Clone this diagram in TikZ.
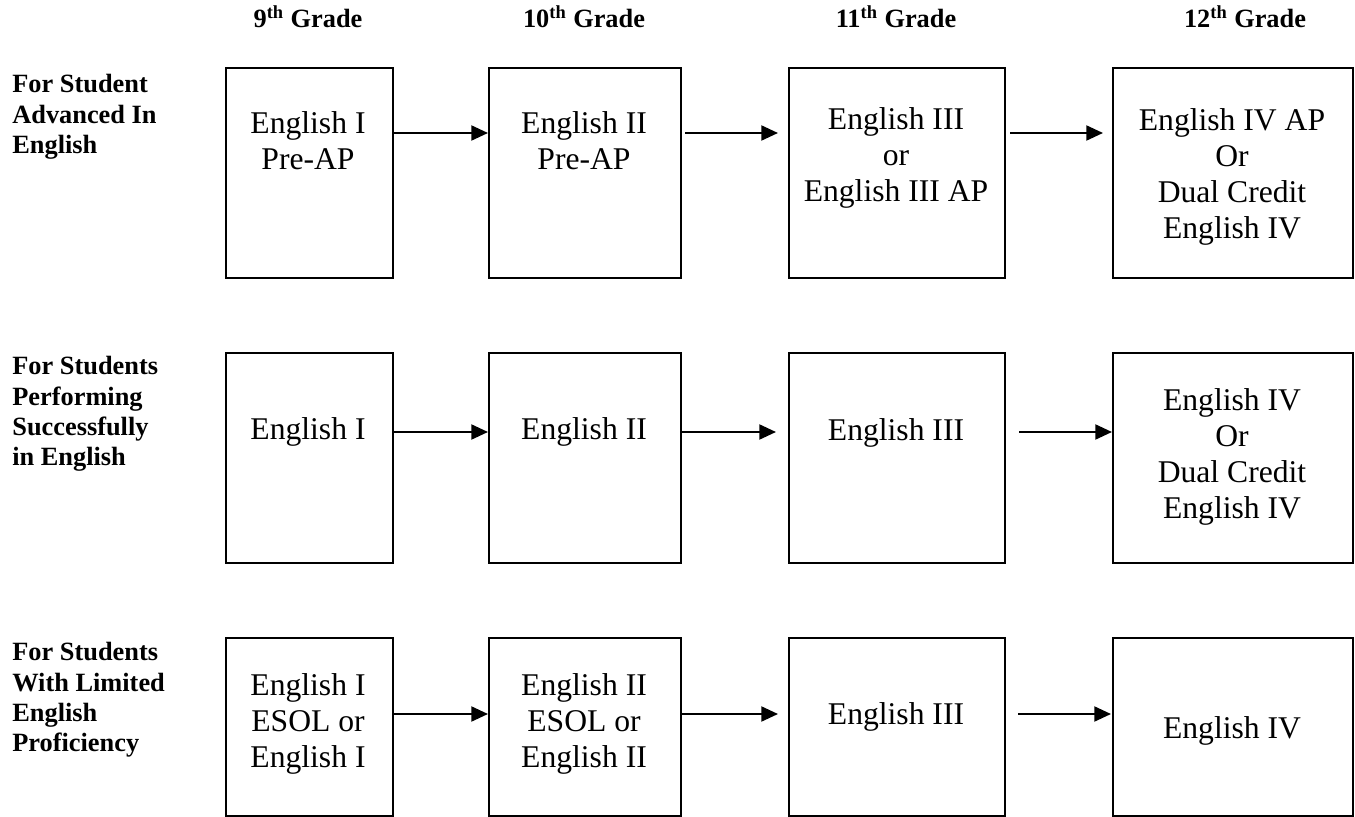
\documentclass[tikz,border=0pt]{standalone}
\usepackage{fontspec}
\setmainfont{Liberation Serif}
\usetikzlibrary{arrows.meta}

\begin{document}
\begin{tikzpicture}[x=0.02cm, y=-0.02cm,
        box/.style = {draw, line width=1.3pt, anchor=north west, inner sep=0pt},
        course/.style = {align=center, font=\fontsize{18}{20.5}\selectfont},
        track/.style = {align=left, anchor=west, inner sep=0pt, font=\bfseries\fontsize{15}{17.3}\selectfont},
        grade/.style = {anchor=base, font=\bfseries\fontsize{15}{18}\selectfont},
        arrow/.style = {line width=1.3pt, -{Triangle[length=9.5pt,width=8.5pt]}}]
    \useasboundingbox (0,0) rectangle (1355,817);

    % grade headings
    \node[grade] (g9)  at (308,28)  {9\textsuperscript{th} Grade};
    \node[grade] (g10) at (584,28)  {10\textsuperscript{th} Grade};
    \node[grade] (g11) at (896,28)  {11\textsuperscript{th} Grade};
    \node[grade] (g12) at (1245,28) {12\textsuperscript{th} Grade};

    % student groups
    \node[track] (adv) at (12,117) {For Student\\Advanced In\\English};
    \node[track] (reg) at (12,414) {For Students\\Performing\\Successfully\\in English};
    \node[track] (lep) at (12,700) {For Students\\With Limited\\English\\Proficiency};

    % advanced track
    \node[box, minimum width=3.34cm, minimum height=4.2cm] (adv9)  at (225,67)  {};
    \node[box, minimum width=3.84cm, minimum height=4.2cm] (adv10) at (488,67)  {};
    \node[box, minimum width=4.32cm, minimum height=4.2cm] (adv11) at (788,67)  {};
    \node[box, minimum width=4.8cm,  minimum height=4.2cm] (adv12) at (1112,67) {};
    \node[course] (adv9t)  at (308,141)  {English I\\Pre-AP};
    \node[course] (adv10t) at (584,141)  {English II\\Pre-AP};
    \node[course] (adv11t) at (896,158)  {English III\\or\\English III AP};
    \node[course] (adv12t) at (1232,177) {English IV AP\\Or\\Dual Credit\\English IV};

    % regular track
    \node[box, minimum width=3.34cm, minimum height=4.2cm] (reg9)  at (225,352)  {};
    \node[box, minimum width=3.84cm, minimum height=4.2cm] (reg10) at (488,352)  {};
    \node[box, minimum width=4.32cm, minimum height=4.2cm] (reg11) at (788,352)  {};
    \node[box, minimum width=4.8cm,  minimum height=4.2cm] (reg12) at (1112,352) {};
    \node[course] (reg9t)  at (308,432)  {English I};
    \node[course] (reg10t) at (584,432)  {English II};
    \node[course] (reg11t) at (896,433)  {English III};
    \node[course] (reg12t) at (1232,457) {English IV\\Or\\Dual Credit\\English IV};

    % ESOL track
    \node[box, minimum width=3.34cm, minimum height=3.56cm] (lep9)  at (225,637)  {};
    \node[box, minimum width=3.84cm, minimum height=3.56cm] (lep10) at (488,637)  {};
    \node[box, minimum width=4.32cm, minimum height=3.56cm] (lep11) at (788,637)  {};
    \node[box, minimum width=4.8cm,  minimum height=3.56cm] (lep12) at (1112,637) {};
    \node[course] (lep9t)  at (308,724)  {English I\\ESOL or\\English I};
    \node[course] (lep10t) at (584,724)  {English II\\ESOL or\\English II};
    \node[course] (lep11t) at (896,717)  {English III};
    \node[course] (lep12t) at (1232,731) {English IV};

    % arrow heights
    \coordinate (r1) at (0,133);
    \coordinate (r2) at (0,432);
    \coordinate (r3) at (0,714);

    \draw[arrow] (adv9.east |- r1) -- (adv10.west |- r1);
    \draw[arrow, shorten <=0.06cm, shorten >=0.2cm] (adv10.east |- r1) -- (adv11.west |- r1);
    \draw[arrow, shorten <=0.08cm, shorten >=0.18cm] (adv11.east |- r1) -- (adv12.west |- r1);

    \draw[arrow] (reg9.east |- r2) -- (reg10.west |- r2);
    \draw[arrow, shorten >=0.24cm] (reg10.east |- r2) -- (reg11.west |- r2);
    \draw[arrow, shorten <=0.26cm] (reg11.east |- r2) -- (reg12.west |- r2);

    \draw[arrow] (lep9.east |- r3) -- (lep10.west |- r3);
    \draw[arrow, shorten >=0.2cm] (lep10.east |- r3) -- (lep11.west |- r3);
    \draw[arrow, shorten <=0.24cm, shorten >=0.02cm] (lep11.east |- r3) -- (lep12.west |- r3);
\end{tikzpicture}
\end{document}
